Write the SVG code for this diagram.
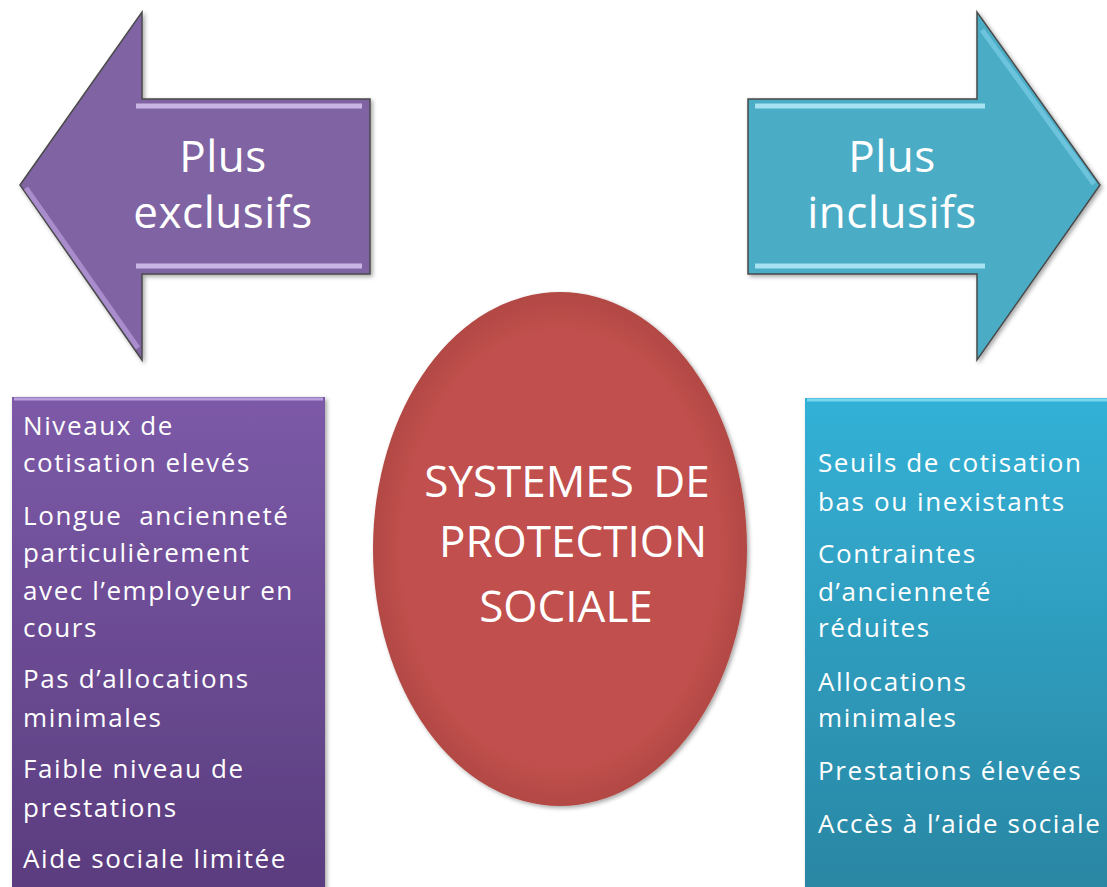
<svg xmlns="http://www.w3.org/2000/svg" width="1107" height="887" viewBox="0 0 1107 887">
<style>
.t{font-family:"Open Sans","Liberation Sans",sans-serif;fill:#ffffff}
.big{font-size:44px;letter-spacing:0.5px}
.mid{font-size:44px}
.sm{font-size:26px;letter-spacing:1.6px}
.edge{stroke:#4a4a4a;stroke-width:1.5;stroke-linejoin:miter}
</style>
<defs>
<linearGradient id="gPurple" x1="0" y1="0" x2="0" y2="1">
<stop offset="0" stop-color="#7c5aa8"/>
<stop offset="1" stop-color="#5a3c7e"/>
</linearGradient>
<linearGradient id="gAqua" x1="0" y1="0" x2="0" y2="1">
<stop offset="0" stop-color="#33b1d6"/>
<stop offset="1" stop-color="#2a86a3"/>
</linearGradient>
<radialGradient id="gRed" cx="0.5" cy="0.5" r="0.5">
<stop offset="0.85" stop-color="#c0504d"/>
<stop offset="1" stop-color="#b24844"/>
</radialGradient>
<filter id="sh" x="-10%" y="-10%" width="120%" height="120%">
<feDropShadow dx="2" dy="2" stdDeviation="2" flood-color="#000" flood-opacity="0.35"/>
</filter>
</defs>

<g id="arrow-left">
<path class="edge" d="M20,185 L142,12 L142,99 L370,99 L370,274 L142,274 L142,360 Z" fill="#8064a2" filter="url(#sh)"/>
<path d="M136,106 L362,106" stroke="#c9b6e4" stroke-width="5" fill="none"/>
<path d="M136,266 L362,266" stroke="#c9b6e4" stroke-width="5" fill="none"/>
<path d="M26,188 L138,348" stroke="#a88ccb" stroke-width="5" fill="none"/>
<text class="t big" x="223" y="172" text-anchor="middle">Plus</text>
<text class="t big" x="223" y="228" text-anchor="middle">exclusifs</text>
</g>

<g id="arrow-right">
<path class="edge" d="M748,99 L977,99 L977,12 L1100,185 L977,360 L977,274 L748,274 Z" fill="#4bacc6" filter="url(#sh)"/>
<path d="M755,106 L985,106" stroke="#a6e2f2" stroke-width="5" fill="none"/>
<path d="M755,266 L985,266" stroke="#a6e2f2" stroke-width="5" fill="none"/>
<path d="M982,30 L1094,184" stroke="#6cc4dc" stroke-width="5" fill="none"/>
<text class="t big" x="892" y="172" text-anchor="middle">Plus</text>
<text class="t big" x="892" y="228" text-anchor="middle">inclusifs</text>
</g>

<g id="box-left">
<rect x="12" y="397" width="313" height="495" fill="url(#gPurple)" filter="url(#sh)"/>
<path d="M14,399 L323,399" stroke="#b9a0db" stroke-width="3"/>
<text class="t sm">
<tspan x="23" y="435">Niveaux de</tspan>
<tspan x="23" y="472">cotisation elevés</tspan>
<tspan x="23" y="525">Longue&#160; ancienneté</tspan>
<tspan x="23" y="562">particulièrement</tspan>
<tspan x="23" y="600">avec l’employeur en</tspan>
<tspan x="23" y="637">cours</tspan>
<tspan x="23" y="688">Pas d’allocations</tspan>
<tspan x="23" y="727">minimales</tspan>
<tspan x="23" y="778">Faible niveau de</tspan>
<tspan x="23" y="817">prestations</tspan>
<tspan x="23" y="868">Aide sociale limitée</tspan>
</text>
</g>

<g id="box-right">
<rect x="805" y="398" width="310" height="495" fill="url(#gAqua)" filter="url(#sh)"/>
<path d="M807,400 L1107,400" stroke="#7ad6ef" stroke-width="3"/>
<text class="t sm">
<tspan x="818" y="472">Seuils de cotisation</tspan>
<tspan x="818" y="511">bas ou inexistants</tspan>
<tspan x="818" y="563">Contraintes</tspan>
<tspan x="818" y="601">d’ancienneté</tspan>
<tspan x="818" y="637">réduites</tspan>
<tspan x="818" y="691">Allocations</tspan>
<tspan x="818" y="727">minimales</tspan>
<tspan x="818" y="780">Prestations élevées</tspan>
<tspan x="818" y="833">Accès à l’aide sociale</tspan>
</text>
</g>

<g id="center">
<ellipse cx="560" cy="549" rx="187" ry="257" fill="url(#gRed)" filter="url(#sh)"/>
<text class="t mid" x="567" y="497" text-anchor="middle" word-spacing="8">SYSTEMES DE</text>
<text class="t mid" x="573" y="557" text-anchor="middle">PROTECTION</text>
<text class="t mid" x="566" y="622" text-anchor="middle">SOCIALE</text>
</g>

<g id="connectors"></g>
</svg>
